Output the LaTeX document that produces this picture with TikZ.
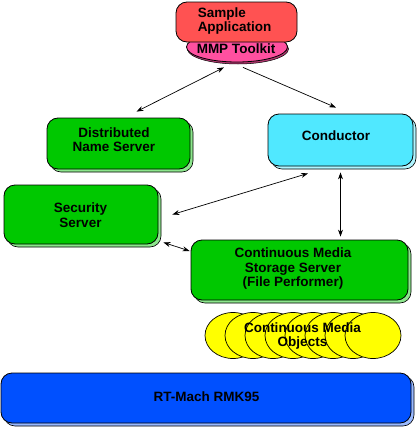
\documentclass[tikz,border=0pt]{standalone}
\usepackage{fontspec}
\setmainfont{Liberation Sans}
\usetikzlibrary{shadows,arrows.meta,shapes.geometric}
\definecolor{appred}{RGB}{255,82,82}
\definecolor{mmppink}{RGB}{255,80,160}
\definecolor{boxgreen}{RGB}{0,200,0}
\definecolor{condcyan}{RGB}{80,232,255}
\definecolor{rtblue}{RGB}{0,80,255}
\definecolor{objyellow}{RGB}{255,255,0}
\begin{document}
\begin{tikzpicture}[x=1pt,y=-1pt,
  box/.style={draw=black, line width=0.8pt, rounded corners=11pt, inner sep=0pt},
  shad/.style={drop shadow={shadow xshift=3pt, shadow yshift=-3pt, opacity=1, fill=#1, draw=black, line width=0.6pt}},
  lbl/.style={font=\bfseries\fontsize{13.5}{14.5}\selectfont, align=center, inner sep=0pt},
  conn/.style={line width=0.7pt, -{Stealth[length=7pt,width=5pt]}},
  dconn/.style={line width=0.7pt, {Stealth[length=7pt,width=5pt]}-{Stealth[length=7pt,width=5pt]}}]
\useasboundingbox (0,0) rectangle (419,431);
% MMP toolkit (behind the application box)
\node[ellipse, draw=black, line width=0.8pt, fill=mmppink, minimum width=101pt, minimum height=30pt, inner sep=0pt,
  drop shadow={shadow xshift=1pt, shadow yshift=-2pt, opacity=1, fill=mmppink!70!black, draw=black, line width=0.5pt}] (mmp) at (237,47) {};
\node[box, fill=appred, minimum width=121pt, minimum height=40pt] (app) at (236.5,22) {};
\node[lbl, align=left] (appt) at (234.5,21) {Sample\\Application};
\node[lbl] (mmpt) at (236,49) {MMP Toolkit};
% boxes
\node[box, fill=boxgreen, shad=boxgreen!45!white, minimum width=143pt, minimum height=51pt] (dns) at (118.5,143.5) {};
\node[lbl] (dnst) at (114,139.5) {Distributed\\Name Server};
\node[box, fill=condcyan, shad=condcyan!45!white, minimum width=145pt, minimum height=52pt] (cond) at (340.5,140) {};
\node[lbl] (condt) at (336,136) {Conductor};
\node[box, fill=boxgreen, shad=boxgreen!45!white, minimum width=154pt, minimum height=59pt] (sec) at (81,214.5) {};
\node[lbl] (sect) at (80.5,215) {Security\\Server};
\node[box, fill=boxgreen, shad=boxgreen!45!white, minimum width=217pt, minimum height=60pt] (cmss) at (299.5,270) {};
\node[lbl] (cmsst) at (293,269) {Continuous Media\\Storage Server\\(File Performer)};
% continuous media objects
\foreach \cx in {233,253,...,373} {
  \draw[fill=objyellow, line width=0.7pt] (\cx,335.5) ellipse [x radius=28, y radius=23];
}
\node[lbl] (cmo) at (302.5,336) {Continuous Media\\Objects};
% RT-Mach
\node[box, fill=rtblue, shad=rtblue!40!white, minimum width=410pt, minimum height=50pt] (rt) at (206,398) {};
\node[lbl] (rtt) at (206.5,397) {RT-Mach RMK95};
% connectors
\draw[dconn] ([xshift=-13pt,yshift=-5pt]mmp.south) -- ([xshift=18pt,yshift=6pt]dns.north);
\draw[conn] ([xshift=6pt,yshift=-5pt]mmp.south) -- ([xshift=-4.5pt,yshift=6pt]cond.north);
\draw[dconn] ([xshift=-32.5pt,yshift=-7pt]cond.south) -- ([xshift=14pt]sec.east);
\draw[dconn] ([yshift=-6pt]cond.south) -- ([xshift=41pt,yshift=3pt]cmss.north);
\draw[dconn] ([xshift=5pt,yshift=2pt]sec.south east) -- ([xshift=-1pt,yshift=19pt]cmss.west);
\end{tikzpicture}
\end{document}
